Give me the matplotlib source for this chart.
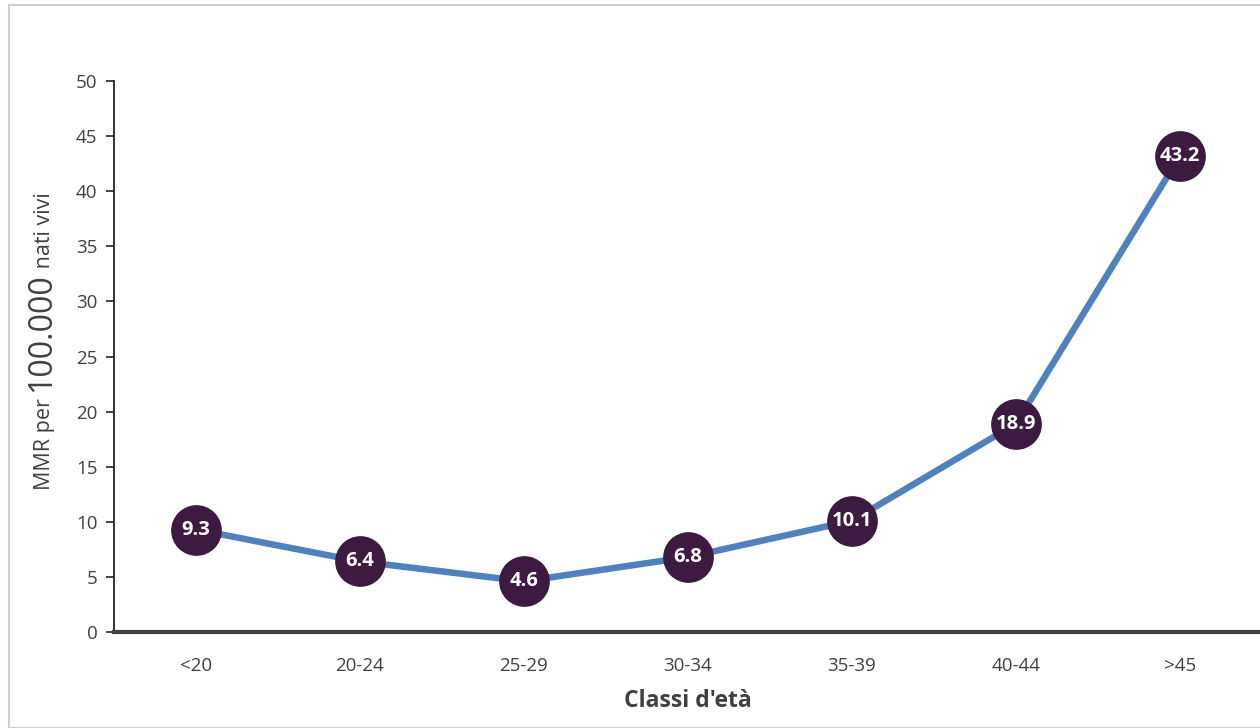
import matplotlib
matplotlib.use("Agg")
import matplotlib.pyplot as plt
from matplotlib.patches import Rectangle

categories = ["<20", "20-24", "25-29", "30-34", "35-39", "40-44", ">45"]
mmr = [9.3, 6.4, 4.6, 6.8, 10.1, 18.9, 43.2]
y_ticks = [0, 5, 10, 15, 20, 25, 30, 35, 40, 45, 50]

FONT = ["Open Sans", "DejaVu Sans"]
plt.rcParams['font.family'] = FONT

fig = plt.figure(figsize=(12.6, 7.28), dpi=100)
W, H = 1260, 728

# outer frame
fig.patches.append(Rectangle((8.5 / W, 0), 1.2, (H - 5) / H, transform=fig.transFigure,
                             fill=False, edgecolor="#D0D0D0", linewidth=1.5, zorder=0))

ax = fig.add_axes([114 / W, 1 - 632 / H, (1262 - 114) / W, (632 - 81) / H])
x = list(range(len(categories)))
ax.plot(x, mmr, color="#4F81BD", linewidth=4.7, solid_capstyle="round", zorder=2)
ax.plot(x, mmr, linestyle="none", marker="o", markersize=35.5, markerfacecolor="#3D1A40",
        markeredgecolor="#3D1A40", zorder=3, clip_on=False)
for xi, v in zip(x, mmr):
    ax.text(xi, v, f"{v:.1f}", ha="center", va="center", color="white",
            fontsize=14.5, fontweight="bold", zorder=4)

ax.set_xlim(-0.5, len(categories) - 0.5)
ax.set_ylim(0, 50)
ax.set_yticks(y_ticks)
ax.set_xticks(x)
ax.set_xticklabels(categories)
ax.tick_params(axis="y", direction="out", length=6, width=1.2, color="#222222",
               labelsize=13.5, labelcolor="#404040", pad=6)
ax.tick_params(axis="x", length=0, labelsize=13.5, labelcolor="#404040", pad=18)
for s in ["top", "right"]:
    ax.spines[s].set_visible(False)
ax.spines["left"].set_linewidth(1.3)
ax.spines["left"].set_color("#222222")
ax.spines["bottom"].set_linewidth(3)
ax.spines["bottom"].set_color("#404040")
ax.spines["bottom"].set_zorder(5)

ax.set_xlabel("Classi d'età", fontsize=16.5, fontweight="bold", color="#404040", labelpad=10)

# y label with mixed sizes
fig.canvas.draw()
r = fig.canvas.get_renderer()
parts = [("MMR per ", 15.5), ("100.000", 23), (" nati vivi", 15.5)]
texts = []
for s, fs in parts:
    texts.append(fig.text(0, 0, s, rotation=90, fontsize=fs, color="#404040",
                          ha="left", va="baseline", rotation_mode="anchor"))
heights = [t.get_window_extent(r).height for t in texts]
total = sum(heights)
yc = H - 341
cur = yc - total / 2
xb = 50
for t, h in zip(texts, heights):
    t.set_position((xb / W, cur / H))
    cur += h

fig.savefig("out.png", dpi=100, facecolor="white")
